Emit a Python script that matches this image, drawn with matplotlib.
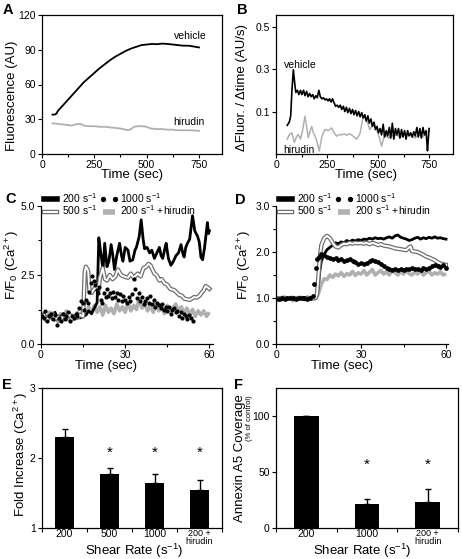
import matplotlib
matplotlib.use("Agg")
import matplotlib.pyplot as plt
import matplotlib.patheffects as pe
import numpy as np

plt.rcParams['font.family'] = ['Liberation Sans', 'DejaVu Sans']
plt.rcParams['mathtext.fontset'] = 'custom'
plt.rcParams['mathtext.rm'] = 'Liberation Sans'
plt.rcParams['mathtext.it'] = 'Liberation Sans:italic'
plt.rcParams['mathtext.bf'] = 'Liberation Sans:bold'

# ---------------- Panel A ----------------
a_time_vehicle = [50, 60, 70, 75, 100, 125, 150, 175, 200, 225, 250, 275, 300, 325, 350, 375,
                  400, 425, 450, 475, 500, 525, 550, 575, 600, 625, 650, 675, 700, 725, 750]
a_vehicle = [34, 34, 35, 37, 42, 47, 52, 57, 62, 66, 70, 74, 77.5, 81, 84, 86.5,
             89, 91, 92.5, 94, 94.5, 95, 94.8, 95.3, 95, 94.5, 94, 93.5, 93.5, 92.8, 92]
a_time_hirudin = [50, 75, 100, 125, 140, 160, 180, 190, 200, 225, 250, 275, 300, 325, 350, 375,
                  400, 410, 425, 440, 460, 480, 500, 520, 550, 575, 600, 625, 650, 700, 750]
a_hirudin = [26.5, 26, 25.5, 25, 24.5, 25.5, 26, 25.5, 24.5, 24, 24, 23.5, 23.5, 23, 22.5, 22,
             21, 20.5, 21.5, 23.5, 24, 24, 23.5, 22, 21.5, 21.5, 21, 21, 20.5, 20.5, 20]

# ---------------- Panel B ----------------
b_time_vehicle = [55, 65, 72, 78, 85, 92, 97, 105, 112, 120, 127, 135, 142, 150, 157, 165, 172, 180,
                  187, 195, 202, 210, 217, 225, 232, 240, 247, 255, 262, 270, 277, 285, 292, 300,
                  307, 315, 322, 330, 337, 345, 352, 360, 367, 375, 382, 390, 397, 405, 412, 420,
                  427, 435, 442, 450, 457, 465, 472, 480, 487, 495, 502, 510, 517, 525, 532, 540,
                  547, 555, 562, 570, 577, 585, 592, 600, 607, 615, 622, 630, 637, 645, 652, 660,
                  667, 675, 682, 690, 697, 705, 712, 720, 727, 735, 742, 746, 750]
b_vehicle = [0.035, 0.05, 0.08, 0.2, 0.297, 0.23, 0.19, 0.2, 0.18, 0.2, 0.18, 0.2, 0.175, 0.195,
             0.17, 0.185, 0.17, 0.18, 0.16, 0.175, 0.165, 0.2, 0.17, 0.16, 0.165, 0.155, 0.16,
             0.15, 0.16, 0.145, 0.16, 0.14, 0.125, 0.13, 0.12, 0.13, 0.11, 0.125, 0.1, 0.12,
             0.095, 0.115, 0.09, 0.11, 0.085, 0.105, 0.08, 0.1, 0.075, 0.095, 0.07, 0.085, 0.055,
             0.08, 0.045, 0.065, 0.03, 0.05, 0.015, 0.03, 0.0, 0.02, -0.01, 0.04, -0.02, 0.01,
             -0.015, 0.025, -0.025, 0.045, -0.03, 0.02, -0.01, 0.02, -0.025, 0.015, -0.02, 0.01,
             -0.03, 0.01, -0.015, 0.0, -0.02, 0.005, -0.015, 0.025, -0.02, 0.02, -0.025, 0.025,
             -0.01, 0.01, -0.085, -0.03, 0.02]
b_time_hirudin = [55, 65, 77, 90, 100, 109, 120, 130, 142, 150, 158, 166, 175, 183, 191, 200, 212,
                  224, 232, 240, 256, 272, 285, 297, 310, 321, 334, 346, 358, 370, 383, 395, 411,
                  427, 444, 460, 477, 493, 505, 517, 533, 550, 565, 590, 610, 630, 656, 680, 700,
                  720, 735, 750]
b_hirudin = [-0.03, -0.01, 0.0, -0.045, -0.02, -0.008, -0.03, 0.01, 0.078, 0.03, -0.023, 0.005,
             0.03, 0.0, -0.015, -0.04, -0.086, -0.02, 0.0, 0.016, 0.01, 0.023, 0.0, -0.016, -0.008,
             -0.01, -0.005, -0.012, -0.004, -0.01, -0.02, -0.03, -0.005, 0.078, 0.06, 0.015, 0.045,
             0.015, -0.02, -0.063, -0.005, -0.025, -0.015, -0.01, -0.02, -0.005, -0.01, -0.025,
             -0.01, -0.02, 0.0, 0.008]

# ---------------- Panel C ----------------
c_time_200 = [0, 1, 2, 3, 4, 5, 6, 7, 8, 9, 10, 11, 12, 13, 14, 15, 16, 17, 18, 19, 20,
              20.6, 21.3, 22.1, 22.7, 23.5, 24.2, 25, 25.6, 26.2, 27, 28, 28.7, 29.2, 30, 31,
              31.7, 32.7, 33.5, 34, 35, 35.7, 36.4, 36.9, 37.8, 38.7, 39.5, 40.4, 41.3, 42.2,
              42.8, 43.4, 44.0, 44.6, 45.4, 46.3, 47.2, 48.1, 49, 49.9, 50.5, 51, 51.6, 52.2, 53,
              54, 54.8, 55.8, 56.4, 57, 57.6, 58.3, 59.3, 59.7, 60]
c_200 = [1.0, 1.1, 0.9, 1.05, 0.95, 1.15, 0.9, 1.0, 1.1, 0.95, 1.05, 0.9, 1.0, 1.1, 0.95, 1.0,
         1.05, 1.2, 1.1, 1.3, 1.5,
         3.85, 3.3, 2.7, 3.65, 2.8, 3.0, 3.6, 3.2, 2.7, 3.2, 3.65, 3.2, 3.0, 3.5, 3.4,
         3.0, 3.05, 3.4, 3.5, 3.9, 4.5, 3.8, 3.45, 3.5, 3.3, 3.4, 3.1, 3.3, 3.5,
         3.2, 3.1, 3.4, 3.65, 3.1, 2.85, 3.0, 3.2, 3.3, 3.6, 3.3, 3.15, 3.5, 3.65, 3.8,
         4.65, 4.1, 3.9, 3.7, 3.15, 3.05, 3.5, 4.4, 4.0, 4.1]
c_time_500 = [0, 1, 2, 3, 4, 5, 6, 7, 8, 9, 10, 11, 12, 13, 14, 15, 15.2, 15.6, 16.0, 16.8, 17.3,
              18, 19, 20, 20.5, 21, 22, 22.8, 23.5, 24.5, 25.5, 26.5, 27.4, 28.5, 29.5, 31, 32,
              33, 34.5, 35.5, 36.5, 37.5, 38.3, 39, 40.4, 41.2, 42.2, 43, 44, 45, 46, 47.5, 48.5,
              49.2, 50.2, 51, 52, 53, 54.6, 55.5, 56.5, 57.2, 58, 58.7, 59.4, 60]
c_500 = [0.95, 1.05, 0.85, 1.0, 1.1, 0.9, 1.0, 0.85, 1.05, 0.95, 1.1, 0.9, 1.0, 0.95, 1.05, 1.0,
         1.5, 2.6, 2.8, 2.65, 1.9,
         1.85, 2.0, 2.1, 1.95, 2.4, 2.75, 2.35, 2.3, 2.5, 2.35, 2.45, 2.7, 2.5, 2.45, 2.4, 2.55,
         2.4, 2.55, 2.45, 2.75, 2.8, 2.9, 2.85, 2.55, 2.5, 2.3, 2.35, 2.2, 2.15, 2.0, 1.95, 1.85,
         1.78, 1.75, 1.65, 1.62, 1.6, 1.7, 1.68, 1.75, 1.85, 1.95, 2.1, 2.05, 2.0]
c_time_1000 = [0.2, 1, 1.6, 2.3, 3, 3.7, 4.3, 5, 5.7, 6.4, 7, 7.7, 8.4, 9, 9.7, 10.4, 11, 11.7,
               12.4, 13, 13.7, 14.3, 14.9, 15.5, 16, 16.7, 17.2, 17.7, 18.2, 18.8, 19.3, 19.8,
               20.3, 20.8, 21.3, 21.8, 22.4, 23, 23.5, 24, 24.6, 25.2, 25.8, 26.4, 27, 27.6, 28.2,
               28.8, 29.4, 30, 30.6, 31.2, 31.8, 32.4, 33, 33.6, 34.2, 34.8, 35.4, 36, 36.6, 37.2,
               37.8, 38.4, 39, 39.6, 40.2, 40.8, 41.4, 42, 42.6, 43.2, 43.8, 44.4, 45, 45.6, 46.2,
               46.8, 47.4, 48, 48.6, 49.2, 49.8, 50.4, 51, 51.6, 52.2, 52.8, 53.4, 54]
c_1000 = [1.0, 0.95, 1.2, 0.85, 1.0, 1.1, 0.9, 1.05, 0.7, 0.95, 0.85, 1.1, 0.9, 1.0, 1.15, 0.85,
          1.0, 0.95, 1.1, 1.0, 1.3, 1.55, 1.5, 1.25, 1.6, 1.5, 1.9, 2.2, 2.45, 2.3, 2.15, 1.95,
          1.85, 2.05, 1.6, 1.5, 1.85, 1.7, 2.0, 1.75, 1.85, 1.65, 1.9, 1.7, 1.85, 1.6, 1.8,
          1.55, 1.75, 1.6, 1.5, 1.7, 1.55, 1.8, 2.35, 2.0, 1.65, 1.85, 1.55, 1.7, 1.45, 1.55,
          1.65, 1.5, 1.75, 1.45, 1.6, 1.35, 1.5, 1.4, 1.3, 1.45, 1.25, 1.35, 1.2, 1.35, 1.1,
          1.25, 1.3, 1.15, 1.2, 1.0, 1.15, 0.95, 1.1, 1.0, 0.9, 1.05, 0.95, 0.85]
c_time_hir = [0, 1, 2, 3, 4, 5, 6, 7, 8, 9, 10, 11, 12, 13, 14, 15, 16, 17, 18, 19, 20, 21, 22,
              23, 24, 25, 26, 27, 28, 29, 30, 31, 32, 33, 34, 35, 36, 37, 38, 39, 40, 41, 42, 43,
              44, 45, 46, 47, 48, 49, 50, 51, 52, 53, 54, 55, 56, 57, 58, 59, 60]
c_hir = [0.95, 1.1, 0.85, 1.15, 0.9, 1.05, 0.8, 1.1, 0.9, 1.2, 0.85, 1.05, 0.9, 1.15, 0.95,
         1.25, 1.05, 1.35, 1.1, 1.4, 1.15, 1.35, 1.05, 1.4, 1.15, 1.3, 1.1, 1.45, 1.2, 1.35,
         1.15, 1.5, 1.2, 1.4, 1.25, 1.65, 1.3, 1.45, 1.2, 1.4, 1.15, 1.45, 1.2, 1.35, 1.1, 1.4,
         1.15, 1.3, 1.45, 1.2, 1.35, 1.1, 1.3, 1.05, 1.25, 1.0, 1.2, 1.05, 1.2, 1.0, 1.15]

# ---------------- Panel D ----------------
d_time_200 = [0, 1, 2, 3, 4, 5, 6, 7, 8, 9, 10, 11, 12, 13, 14, 14.5, 15, 15.5, 16, 17, 18, 19,
              20, 21, 22, 23, 24, 25, 26, 27, 28, 29, 30, 31, 32, 33, 34, 35, 36, 37, 38, 39, 40,
              41, 42, 43, 44, 45, 46, 47, 48, 49, 50, 51, 52, 53, 54, 55, 56, 57, 58, 59, 60]
d_200 = [1.0, 0.98, 1.0, 1.01, 0.99, 1.0, 0.98, 1.0, 1.01, 0.99, 1.0, 1.0, 0.99, 1.0, 1.0, 1.05,
         1.3, 1.6, 1.8, 1.95, 2.05, 2.1, 2.15, 2.2, 2.18, 2.22, 2.2, 2.25, 2.22, 2.26, 2.24,
         2.27, 2.25, 2.28, 2.27, 2.3, 2.28, 2.31, 2.29, 2.3, 2.28, 2.31, 2.33, 2.3, 2.35, 2.37,
         2.32, 2.3, 2.28, 2.25, 2.27, 2.3, 2.32, 2.28, 2.31, 2.29, 2.32, 2.3, 2.33, 2.3, 2.31,
         2.29, 2.28]
d_time_500 = [0, 1, 2, 3, 4, 5, 6, 7, 8, 9, 10, 11, 12, 13, 14, 14.5, 15, 15.5, 16, 17, 18, 19,
              20, 21, 22, 23, 24, 25, 26, 27, 28, 29, 30, 31, 32, 33, 34, 35, 36, 37, 38, 39, 40,
              41, 42, 43, 44, 45, 46, 47, 47.5, 48, 49, 50, 51, 52, 53, 54, 55, 56, 57, 58, 59, 60]
d_500 = [1.0, 0.99, 1.0, 1.0, 0.99, 1.0, 1.0, 0.99, 1.0, 1.0, 0.99, 1.0, 1.0, 0.99, 1.0, 1.1,
         1.5, 1.9, 2.15, 2.3, 2.35, 2.3, 2.2, 2.12, 2.1, 2.15, 2.18, 2.17, 2.2, 2.18, 2.2, 2.19,
         2.2, 2.18, 2.2, 2.17, 2.2, 2.18, 2.15, 2.17, 2.14, 2.13, 2.12, 2.1, 2.08, 2.07, 2.06,
         2.05, 2.04, 2.1, 2.12, 2.02, 2.01, 2.0, 1.97, 1.94, 1.9, 1.88, 1.85, 1.82, 1.78, 1.75,
         1.73, 1.72]
d_time_1000 = [0, 1, 2, 3, 4, 5, 6, 7, 8, 9, 10, 11, 12, 13, 13.5, 14, 14.5, 15, 16, 17, 18, 19,
               20, 21, 22, 23, 24, 25, 26, 27, 28, 29, 30, 31, 32, 33, 34, 35, 36, 37, 38, 39, 40,
               41, 42, 43, 44, 45, 46, 47, 48, 49, 50, 51, 52, 53, 54, 55, 56, 57, 58, 59, 60]
d_1000 = [0.97, 0.98, 1.0, 0.98, 1.0, 0.99, 1.0, 0.98, 1.0, 0.99, 1.0, 0.98, 1.0, 1.05, 1.3,
          1.65, 1.85, 1.9, 1.95, 1.93, 1.9, 1.88, 1.85, 1.87, 1.83, 1.85, 1.8, 1.82, 1.85, 1.8,
          1.78, 1.75, 1.77, 1.74, 1.76, 1.8, 1.82, 1.8, 1.78, 1.75, 1.7, 1.65, 1.62, 1.6, 1.62,
          1.6, 1.62, 1.6, 1.62, 1.63, 1.65, 1.64, 1.62, 1.6, 1.65, 1.62, 1.66, 1.7, 1.72, 1.7,
          1.68, 1.72, 1.65]
d_time_hir = [0, 1, 2, 3, 4, 5, 6, 7, 8, 9, 10, 11, 12, 13, 14, 15, 16, 17, 18, 19, 20, 21, 22,
              23, 24, 25, 26, 27, 28, 29, 30, 31, 32, 33, 34, 35, 36, 37, 38, 39, 40, 41, 42, 43,
              44, 45, 46, 47, 48, 49, 50, 51, 52, 53, 54, 55, 56, 57, 58, 59, 60]
d_hir = [0.98, 1.0, 0.95, 1.02, 0.97, 1.0, 0.94, 1.01, 0.98, 1.0, 0.96, 1.02, 0.97, 0.99, 1.0,
         1.1, 1.3, 1.42, 1.4, 1.5, 1.45, 1.52, 1.48, 1.55, 1.47, 1.53, 1.5, 1.58, 1.49, 1.55,
         1.52, 1.6, 1.5, 1.56, 1.62, 1.5, 1.55, 1.6, 1.52, 1.57, 1.5, 1.62, 1.55, 1.5, 1.58,
         1.52, 1.6, 1.53, 1.5, 1.57, 1.52, 1.6, 1.5, 1.55, 1.58, 1.5, 1.55, 1.52, 1.57, 1.5, 1.53]

# ---------------- Panel E / F ----------------
e_categories = ['200', '500', '1000', '200 +\nhirudin']
e_values = [2.30, 1.77, 1.64, 1.54]
e_errors = [0.12, 0.09, 0.13, 0.14]
e_significant = [False, True, True, True]

f_categories = ['200', '1000', '200 +\nhirudin']
f_values = [100, 21, 23]
f_errors = [0, 5, 11.5]
f_significant = [False, True, True]

legend_labels = ['200 s$^{-1}$', '500 s$^{-1}$', '1000 s$^{-1}$', '200 s$^{-1}$ +hirudin']

# ------------------------------------------------------------
W, H = 462, 559
fig = plt.figure(figsize=(W / 100, H / 100), dpi=100)

def ax_at(l, t, r, b):
    return fig.add_axes([l / W, 1 - b / H, (r - l) / W, (b - t) / H])

def ftext(x, y, s, **kw):
    return fig.text(x / W, 1 - y / H, s, **kw)

TICK = 7.5
LAB = 9.5
GRAY = '#b0b0b0'

def style(ax, box=True):
    ax.tick_params(which='both', labelsize=TICK, width=0.8, pad=1.5, direction='out')
    ax.tick_params(which='major', length=3)
    ax.tick_params(which='minor', length=2.5)
    for s in ax.spines.values():
        s.set_linewidth(0.9)
    if not box:
        ax.spines['top'].set_visible(False)
        ax.spines['right'].set_visible(False)

# Panel A
axA = ax_at(42, 15, 222, 154)
axA.plot(a_time_vehicle, a_vehicle, color='black', lw=1.3)
axA.plot(a_time_hirudin, a_hirudin, color=GRAY, lw=1.3)
axA.set_xlim(0, 860)
axA.set_ylim(0, 120)
axA.set_xticks([0, 250, 500, 750])
axA.set_xticks([125, 375, 625], minor=True)
axA.set_yticks([0, 30, 60, 90, 120])
style(axA)
ftext(190, 36, 'vehicle', fontsize=7.5, ha='center', va='center')
ftext(189, 122, 'hirudin', fontsize=7.5, ha='center', va='center')
ftext(12, 96, 'Fluorescence (AU)', fontsize=LAB, rotation=90, ha='center', va='center')
ftext(132, 175, 'Time (sec)', fontsize=LAB, ha='center', va='center')
ftext(3, 13.5, 'A', fontsize=10.5, fontweight='bold', ha='left', va='baseline')

# Panel B
axB = ax_at(276, 15, 453, 154)
axB.plot(b_time_hirudin, b_hirudin, color=GRAY, lw=1.1)
axB.plot(b_time_vehicle, b_vehicle, color='black', lw=1.2)
axB.set_xlim(0, 867)
axB.set_ylim(-0.1, 0.555)
axB.set_xticks([0, 250, 500, 750])
axB.set_xticks([125, 375, 625], minor=True)
axB.set_yticks([0.1, 0.3, 0.5])
axB.set_yticklabels(['0.1', '0.3', '0.5'])
style(axB)
ftext(300, 65, 'vehicle', fontsize=7.5, ha='center', va='center')
ftext(299, 150, 'hirudin', fontsize=7.5, ha='center', va='center')
ftext(242, 88, '\u0394Fluor. / \u0394time (AU/s)', fontsize=LAB, rotation=90, ha='center', va='center')
ftext(366, 175, 'Time (sec)', fontsize=LAB, ha='center', va='center')
ftext(237, 13.5, 'B', fontsize=10.5, fontweight='bold', ha='left', va='baseline')

def calcium_panel(ax, t200, v200, t500, v500, t1000, v1000, thir, vhir, ms):
    h_hir, = ax.plot(thir, vhir, color=GRAY, lw=2.6, solid_capstyle='butt')
    h200, = ax.plot(t200, v200, color='black', lw=2.0)
    h500, = ax.plot(t500, v500, color='white', lw=1.4,
                    path_effects=[pe.Stroke(linewidth=3.2, foreground='#6e6e6e'), pe.Normal()])
    h1000, = ax.plot(t1000, v1000, ls='none', marker='o', ms=ms, color='black', mec='black')
    leg = ax.legend([h200, h500, h1000, h_hir], legend_labels, ncol=2, loc='upper left',
                    bbox_to_anchor=(0.0, 1.11), frameon=False, fontsize=7.5, borderpad=0,
                    borderaxespad=0, handlelength=1.8, handletextpad=0.2, columnspacing=0.2,
                    labelspacing=-0.1, numpoints=2)
    for line in leg.get_lines():
        if line.get_color() == GRAY:
            line.set_linewidth(4)
        elif line.get_color() == 'black' and line.get_linestyle() != 'None':
            line.set_linewidth(4)
        if line.get_marker() == 'o':
            line.set_markersize(2.8)
    return leg

# Panel C
axC = ax_at(41, 206, 213, 344)
calcium_panel(axC, c_time_200, c_200, c_time_500, c_500, c_time_1000, c_1000, c_time_hir, c_hir, 2.0)
axC.set_xlim(0, 61.3)
axC.set_ylim(0, 5)
axC.set_xticks([0, 30, 60])
axC.set_xticks([15, 45], minor=True)
axC.set_yticks([0, 2.5, 5.0])
axC.set_yticklabels(['0.0', '2.5', '5.0'])
axC.set_yticks([1.25, 3.75], minor=True)
style(axC, box=False)
ftext(12, 265, 'F/F$_0$ (Ca$^{2+}$)', fontsize=LAB, rotation=90, ha='center', va='center')
ftext(106, 366, 'Time (sec)', fontsize=LAB, ha='center', va='center')
ftext(5, 203, 'C', fontsize=10.5, fontweight='bold', ha='left', va='baseline')

# Panel D
axD = ax_at(276, 206, 448, 344)
calcium_panel(axD, d_time_200, d_200, d_time_500, d_500, d_time_1000, d_1000, d_time_hir, d_hir, 2.4)
axD.set_xlim(0, 60.7)
axD.set_ylim(0, 3)
axD.set_xticks([0, 30, 60])
axD.set_xticks([15, 45], minor=True)
axD.set_yticks([0, 1, 2, 3])
axD.set_yticklabels(['0.0', '1.0', '2.0', '3.0'])
axD.set_yticks([0.5, 1.5, 2.5], minor=True)
style(axD, box=False)
ftext(244, 265, 'F/F$_0$ (Ca$^{2+}$)', fontsize=LAB, rotation=90, ha='center', va='center')
ftext(342, 366, 'Time (sec)', fontsize=LAB, ha='center', va='center')
ftext(235, 204, 'D', fontsize=10.5, fontweight='bold', ha='left', va='baseline')

def bar_panel(ax, cats, vals, errs, sig, width, star_y):
    x = np.arange(len(cats)) + 0.5
    ax.bar(x, vals, width=width, color='black', zorder=2)
    ax.errorbar(x, vals, yerr=[np.zeros(len(vals)), errs], fmt='none', ecolor='black',
                elinewidth=1.0, capsize=2.5, capthick=1.0, zorder=1)
    for xi, s in zip(x, sig):
        if s:
            ax.text(xi, star_y, '*', ha='center', va='center', fontsize=11)
    ax.set_xlim(0, len(cats))
    ax.set_xticks(np.arange(len(cats) + 1))
    ax.set_xticklabels([])
    ax.set_xticks(x, minor=True)
    ax.set_xticklabels(cats, minor=True)
    ax.tick_params(axis='x', which='minor', length=0, pad=1, labelsize=7.5)
    for lab in ax.get_xticklabels(minor=True):
        if '\n' in lab.get_text():
            lab.set_fontsize(6.5)
            lab.set_linespacing(0.85)

# Panel E
axE = ax_at(42, 388, 222, 528)
style(axE)
bar_panel(axE, e_categories, e_values, e_errors, e_significant, 0.42, 2.07)
axE.set_ylim(1, 3)
axE.set_yticks([1, 2, 3])
ftext(21, 454, 'Fold Increase (Ca$^{2+}$)', fontsize=LAB, rotation=90, ha='center', va='center')
ftext(134, 550.5, 'Shear Rate (s$^{-1}$)', fontsize=LAB, ha='center', va='center')
ftext(2, 389, 'E', fontsize=10.5, fontweight='bold', ha='left', va='baseline')

# Panel F
axF = ax_at(276, 388, 458, 528)
style(axF)
bar_panel(axF, f_categories, f_values, f_errors, f_significant, 0.41, 56)
axF.set_ylim(0, 125)
axF.set_yticks([0, 50, 100])
ftext(239.5, 458, 'Annexin A5 Coverage', fontsize=LAB, rotation=90, ha='center', va='center')
ftext(249.5, 418, '(% of control)', fontsize=5.5, rotation=90, ha='center', va='center')
ftext(362, 550.5, 'Shear Rate (s$^{-1}$)', fontsize=LAB, ha='center', va='center')
ftext(234, 389, 'F', fontsize=10.5, fontweight='bold', ha='left', va='baseline')

fig.savefig('out.png', dpi=100)
